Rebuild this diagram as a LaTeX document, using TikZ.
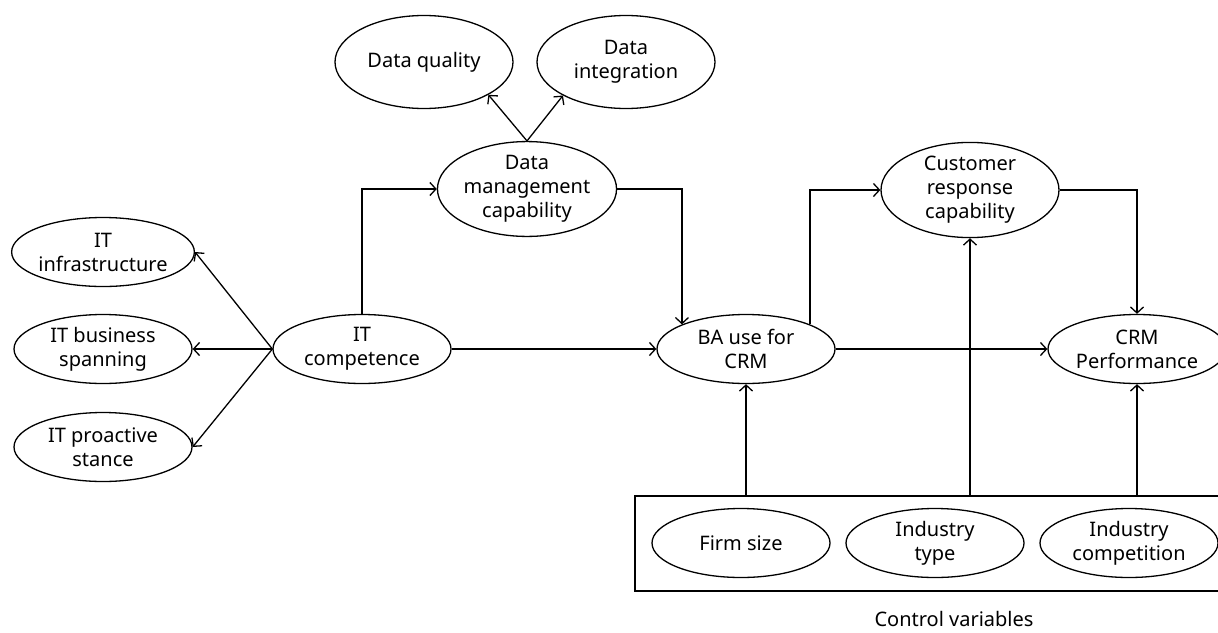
\documentclass[tikz,border=0pt]{standalone}
\usepackage{fontspec}
\setmainfont{Noto Sans}
\usetikzlibrary{arrows.meta}
\usetikzlibrary{shapes.geometric}

\begin{document}
\begin{tikzpicture}[x=1pt,y=-1pt,>={Straight Barb[length=6pt,width=13pt]},line width=1.3pt,
  main node/.style={ellipse,draw,inner sep=0pt,minimum width=178pt,minimum height=69pt,align=center,font=\fontsize{20}{24}\selectfont},
  tall node/.style={main node,minimum height=93pt}]

  \useasboundingbox (0,0) rectangle (1218,632);
  \clip (0,0) rectangle (1218,632);

  % data management side
  \node[tall node] (dq) at (424,62) {Data quality};
  \node[tall node] (di) at (626,62) {Data\\integration};
  \node[tall node] (dmc) at (527,189) {Data\\management\\capability};

  % IT competence dimensions
  \node[main node] (inf) at (103,252) {IT\\infrastructure};
  \node[main node] (bs) at (103,349) {IT business\\spanning};
  \node[main node] (pro) at (103,447) {IT proactive\\stance};
  \node[main node] (itc) at (362,349) {IT\\competence};

  \node[main node] (ba) at (746,349) {BA use for\\CRM};
  \node[tall node] (crc) at (970,190) {Customer\\response\\capability};
  \node[main node] (crm) at (1137,349) {CRM\\Performance};

  % control variables
  \node[draw,rectangle,minimum width=600pt,minimum height=95pt] (cbox) at (935,543.5) {};
  \node[main node] (fs) at (741,543) {Firm size};
  \node[main node] (ind) at (935,543) {Industry\\type};
  \node[main node] (comp) at (1129,543) {Industry\\competition};
  \node[font=\fontsize{20}{24}\selectfont] (cv) at (954,619) {Control variables};

  \path[->]
    (itc.west) edge (inf.east)
               edge (bs.east)
               edge (pro.east)
    (dmc.north) edge (dq.-27)
                edge (di.-152);

  \draw[->] (itc.north) |- (dmc.west);
  \draw[->] (dmc.east) -| (ba.159);
  \draw[->] (itc.east) -- (ba.west);
  \draw[->] (ba.21) |- (crc.west);
  \draw[->] (crc.east) -| (crm.north);
  \draw[->] (ba.east) -- (crm.west);

  \draw[->] (ba.south |- cbox.north) -- (ba.south);
  \draw[->] (crc.south |- cbox.north) -- (crc.south);
  \draw[->] (crm.south |- cbox.north) -- (crm.south);

\end{tikzpicture}
\end{document}
